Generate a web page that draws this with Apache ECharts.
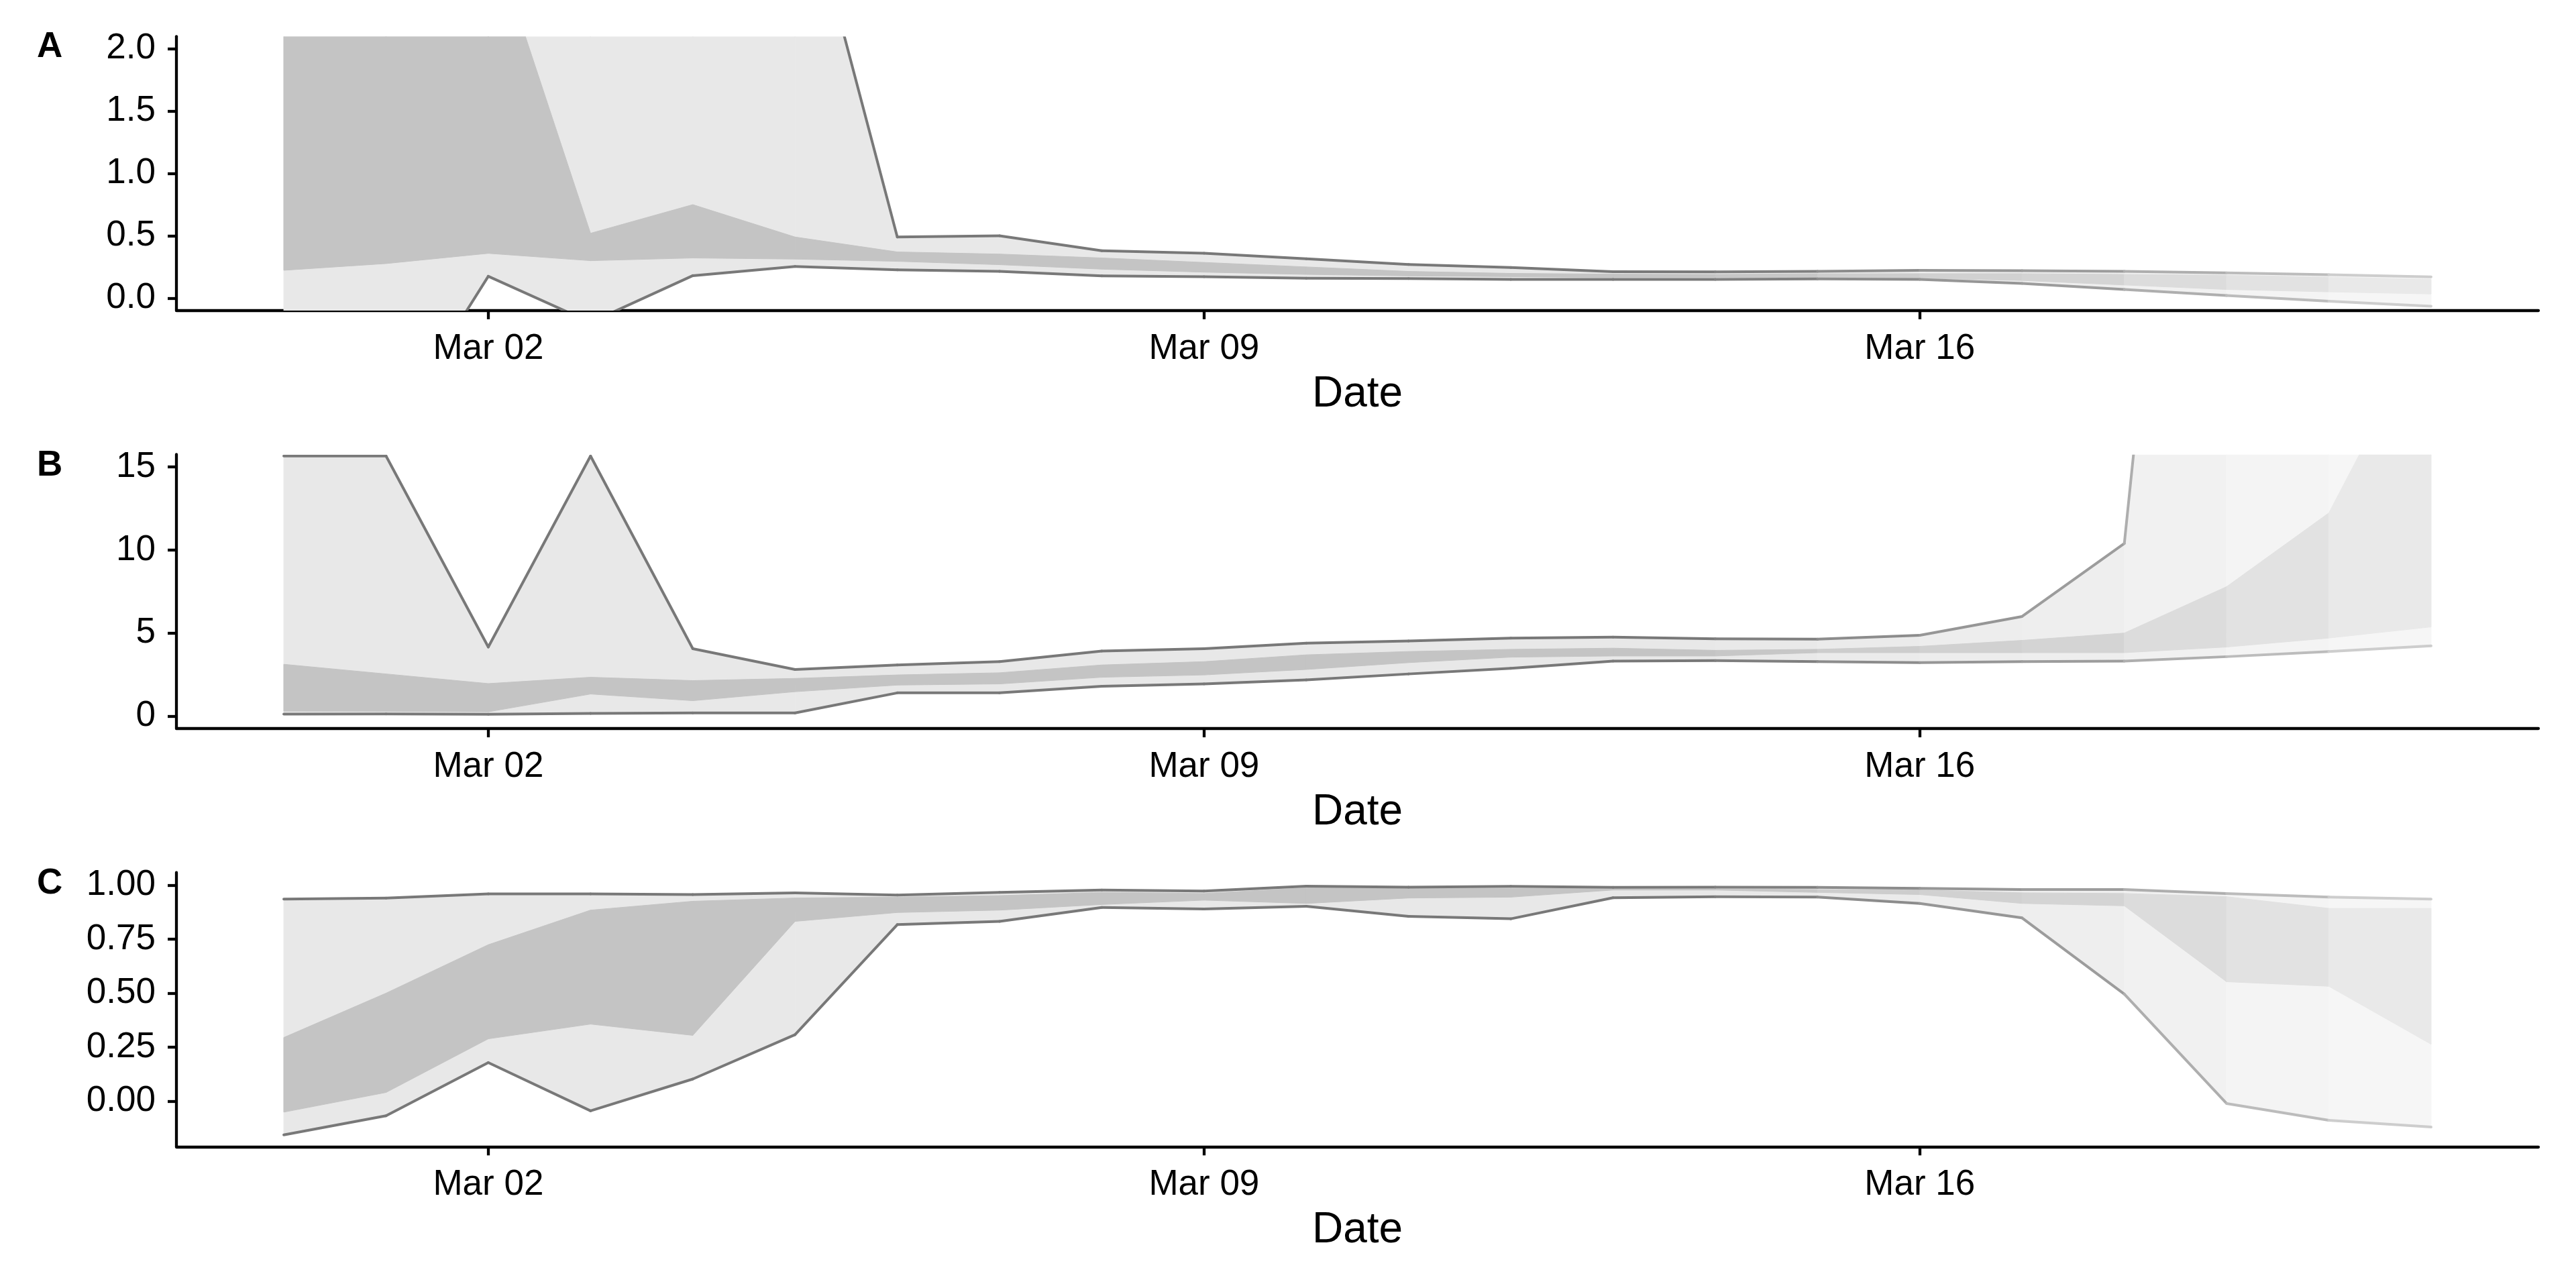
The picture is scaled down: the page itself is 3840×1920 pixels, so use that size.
<!DOCTYPE html>
<html>
<head>
<meta charset="utf-8">
<script src="https://cdn.jsdelivr.net/npm/echarts@6/dist/echarts.min.js"></script>
<style>
html,body{margin:0;padding:0;background:#ffffff;}
#chart{width:3840px;height:1920px;}
</style>
</head>
<body>
<div id="chart"></div>
<script>
// ---------------- data ----------------
const dates = ['2020-02-29','2020-03-01','2020-03-02','2020-03-03','2020-03-04','2020-03-05','2020-03-06',
  '2020-03-07','2020-03-08','2020-03-09','2020-03-10','2020-03-11','2020-03-12','2020-03-13','2020-03-14',
  '2020-03-15','2020-03-16','2020-03-17','2020-03-18','2020-03-19','2020-03-20','2020-03-21'];
const tickDates = ['2020-03-02','2020-03-09','2020-03-16'];
const tickLabels = ['Mar 02','Mar 09','Mar 16'];
const panelLabels = ['A','B','C'];
const xTitle = 'Date';

// Panel A
const aHi95 = [6.5, 7.0, 8.0, 9.0, 7.5, 3.6, 0.49, 0.50, 0.38, 0.36, 0.315, 0.27, 0.245, 0.212, 0.21, 0.215, 0.222, 0.22, 0.215, 0.202, 0.188, 0.17];
const aHi50 = [3.5, 3.4, 3.0, 0.52, 0.75, 0.49, 0.37, 0.353, 0.322, 0.286, 0.25, 0.214, 0.198, 0.192, 0.19, 0.195, 0.196, 0.196, 0.19, 0.183, 0.168, 0.15];
const aLo50 = [0.223, 0.277, 0.359, 0.30, 0.322, 0.313, 0.295, 0.268, 0.232, 0.208, 0.19, 0.178, 0.172, 0.165, 0.165, 0.165, 0.16, 0.141, 0.105, 0.069, 0.05, 0.033];
const aLo95 = [-1.5, -1.13, 0.175, -0.195, 0.18, 0.254, 0.226, 0.214, 0.178, 0.172, 0.159, 0.156, 0.15, 0.15, 0.15, 0.154, 0.15, 0.118, 0.069, 0.02, -0.025, -0.065];
const aYTicks = [0, 0.5, 1, 1.5, 2];

// Panel B
const bHi95 = [15.66, 15.66, 4.16, 15.66, 4.06, 2.81, 3.08, 3.28, 3.92, 4.06, 4.39, 4.52, 4.70, 4.76, 4.66, 4.63, 4.87, 6.0, 10.39, 70, 85, 100];
const bHi50 = [3.12, 2.54, 1.96, 2.34, 2.14, 2.27, 2.48, 2.61, 3.08, 3.28, 3.69, 3.89, 4.02, 4.09, 3.96, 4.02, 4.2, 4.56, 5.0, 7.79, 12.23, 24];
const bLo50 = [0.30, 0.29, 0.26, 1.33, 0.93, 1.47, 1.87, 1.94, 2.34, 2.48, 2.81, 3.22, 3.55, 3.62, 3.62, 3.82, 3.82, 3.82, 3.82, 4.16, 4.7, 5.37];
const bLo95 = [0.12, 0.13, 0.11, 0.16, 0.19, 0.19, 1.40, 1.40, 1.80, 1.94, 2.18, 2.54, 2.88, 3.31, 3.34, 3.28, 3.22, 3.28, 3.31, 3.58, 3.89, 4.23];
const bYTicks = [0, 5, 10, 15];

// Panel C
const cHi95 = [0.935, 0.94, 0.959, 0.959, 0.956, 0.964, 0.954, 0.966, 0.977, 0.972, 0.995, 0.99, 0.994, 0.989, 0.99, 0.989, 0.985, 0.979, 0.979, 0.961, 0.944, 0.935];
const cHi50 = [0.295, 0.50, 0.724, 0.884, 0.925, 0.94, 0.944, 0.951, 0.966, 0.961, 0.987, 0.985, 0.985, 0.982, 0.982, 0.979, 0.977, 0.964, 0.961, 0.946, 0.892, 0.892];
const cLo50 = [-0.05, 0.041, 0.289, 0.357, 0.305, 0.832, 0.873, 0.884, 0.91, 0.93, 0.915, 0.94, 0.944, 0.977, 0.977, 0.966, 0.956, 0.915, 0.904, 0.553, 0.532, 0.264];
const cLo95 = [-0.155, -0.067, 0.179, -0.044, 0.103, 0.308, 0.817, 0.832, 0.896, 0.889, 0.902, 0.855, 0.844, 0.941, 0.946, 0.944, 0.915, 0.848, 0.496, -0.01, -0.088, -0.119];
const cYTicks = [0, 0.25, 0.5, 0.75, 1];

// ---------------- style ----------------
const segmentOpacity = [1,1,1,1,1,1,1,1,1,1,1,1,1,1,0.95,0.85,0.78,0.73,0.6,0.5,0.37];
const FONT = 'Liberation Sans';
const DAY = 86400000;
const t0 = Date.parse(dates[0]);
const xs = dates.map(d => (Date.parse(d) - t0) / DAY);
const tickX = tickDates.map(d => (Date.parse(d) - t0) / DAY);
const xPad = (xs[xs.length - 1] - xs[0]) * 0.05;

function grey(base, a) {
  const v = Math.round(255 - (255 - base) * a);
  return 'rgb(' + v + ',' + v + ',' + v + ')';
}

const panels = [
  {lo95: aLo95, lo50: aLo50, hi50: aHi50, hi95: aHi95, yMin: -0.1, yMax: 2.1, ticks: aYTicks, dec: 1, top: 54.3},
  {lo95: bLo95, lo50: bLo50, hi50: bHi50, hi95: bHi95, yMin: -0.75, yMax: 15.75, ticks: bYTicks, dec: 0, top: 677.5},
  {lo95: cLo95, lo50: cLo50, hi50: cHi50, hi95: cHi95, yMin: -0.2096, yMax: 1.0577, ticks: cYTicks, dec: 2, top: 1300.7}
];
const GRID_LEFT = 263, GRID_RIGHT = 3784, GRID_H = 408.6;

function clipRect(params) {
  const cs = params.coordSys;
  return {type: 'rect', shape: {x: cs.x, y: cs.y, width: cs.width, height: cs.height}};
}

function bandRenderer(lo, hi, base) {
  return function (params, api) {
    const i = params.dataIndex;
    const a = segmentOpacity[i];
    const P = (x, y) => api.coord([x, y]);
    const pts = [P(xs[i], hi[i]), P(xs[i + 1], hi[i + 1]), P(xs[i + 1], lo[i + 1]), P(xs[i], lo[i])];
    const c = grey(base, a);
    return {
      type: 'polygon',
      clipPath: clipRect(params),
      shape: {points: pts},
      style: {fill: c, stroke: c, lineWidth: 1}
    };
  };
}

function lineRenderer(p) {
  return function (params, api) {
    const i = params.dataIndex;
    const a = segmentOpacity[i];
    const P = (x, y) => api.coord([x, y]);
    const col = grey(120, a);
    return {
      type: 'group',
      clipPath: clipRect(params),
      children: [
        {type: 'polyline', shape: {points: [P(xs[i], p.hi95[i]), P(xs[i + 1], p.hi95[i + 1])]},
          style: {stroke: col, lineWidth: 4, fill: null, lineCap: 'round'}},
        {type: 'polyline', shape: {points: [P(xs[i], p.lo95[i]), P(xs[i + 1], p.lo95[i + 1])]},
          style: {stroke: col, lineWidth: 4, fill: null, lineCap: 'round'}}
      ]
    };
  };
}

const segData = xs.slice(0, -1).map((x, i) => [x, i]);

const grid = [], xAxis = [], yAxis = [], series = [], title = [];
panels.forEach((p, k) => {
  grid.push({left: GRID_LEFT, width: GRID_RIGHT - GRID_LEFT, top: p.top, height: GRID_H, containLabel: false});
  xAxis.push({
    gridIndex: k, type: 'value', min: xs[0] - xPad, max: xs[xs.length - 1] + xPad,
    name: xTitle, nameLocation: 'middle', nameGap: 93,
    nameTextStyle: {fontFamily: FONT, fontSize: 64, color: '#000000'},
    axisLine: {show: true, onZero: false, lineStyle: {color: '#000000', width: 4.3}},
    axisTick: {show: true, length: 13, customValues: tickX, lineStyle: {color: '#000000', width: 4.3}},
    axisLabel: {show: true, customValues: tickX, margin: 31, fontFamily: FONT, fontSize: 53, color: '#000000',
      formatter: v => { const j = tickX.indexOf(v); return j >= 0 ? tickLabels[j] : ''; }},
    splitLine: {show: false}
  });
  yAxis.push({
    gridIndex: k, type: 'value', min: p.yMin, max: p.yMax,
    axisLine: {show: true, onZero: false, lineStyle: {color: '#000000', width: 4.3}},
    axisTick: {show: true, length: 13, customValues: p.ticks, lineStyle: {color: '#000000', width: 4.3}},
    axisLabel: {show: true, customValues: p.ticks, margin: 31, fontFamily: FONT, fontSize: 53, color: '#000000',
      formatter: v => Number(v).toFixed(p.dec)},
    splitLine: {show: false}
  });
  series.push({
    type: 'custom', xAxisIndex: k, yAxisIndex: k, clip: true, silent: true, z: 2,
    renderItem: bandRenderer(p.lo95, p.hi95, 232), data: segData, encode: {x: 0}
  });
  series.push({
    type: 'custom', xAxisIndex: k, yAxisIndex: k, clip: true, silent: true, z: 3,
    renderItem: bandRenderer(p.lo50, p.hi50, 196), data: segData, encode: {x: 0}
  });
  series.push({
    type: 'custom', xAxisIndex: k, yAxisIndex: k, clip: true, silent: true, z: 4,
    renderItem: lineRenderer(p), data: segData, encode: {x: 0}
  });
  title.push({
    text: panelLabels[k], left: 55, top: p.top - 10, padding: 0,
    textStyle: {fontFamily: FONT, fontSize: 53, fontWeight: 'bold', color: '#000000'}
  });
});

const chart = echarts.init(document.getElementById('chart'), null, {renderer: 'canvas'});
chart.setOption({
  animation: false,
  backgroundColor: '#ffffff',
  title: title,
  grid: grid,
  xAxis: xAxis,
  yAxis: yAxis,
  series: series
});
</script>
</body>
</html>
